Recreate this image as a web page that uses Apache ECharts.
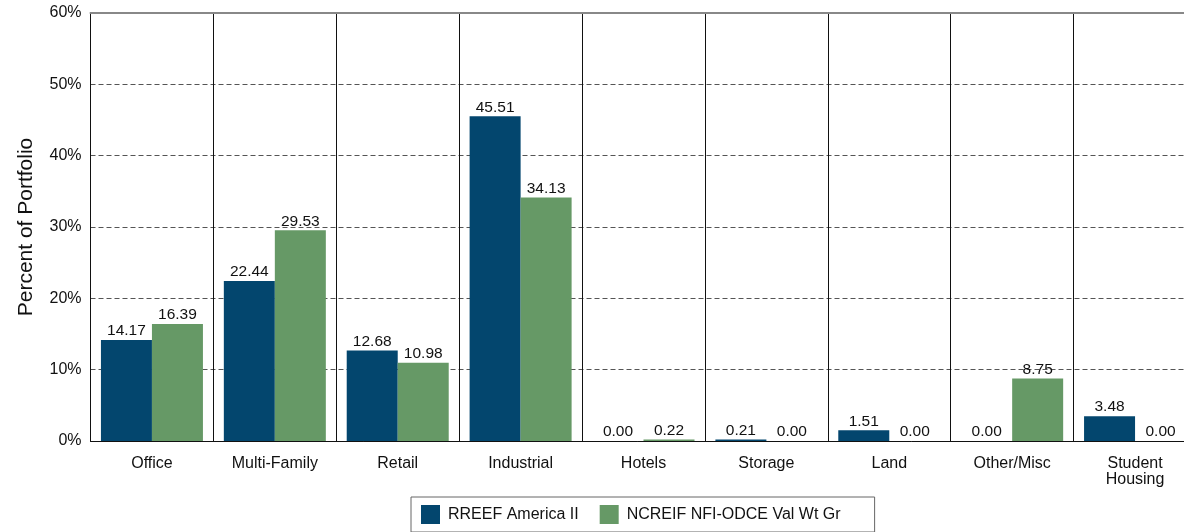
<!DOCTYPE html>
<html>
<head>
<meta charset="utf-8">
<script src="https://cdn.jsdelivr.net/npm/echarts@6/dist/echarts.min.js"></script>
<style>
  html, body { margin: 0; padding: 0; background: #fff; }
  #chart { width: 1184px; height: 532px; }
</style>
</head>
<body>
<div id="chart"></div>
<script>
// Property-type allocation, percent of portfolio
const categories = ['Office', 'Multi-Family', 'Retail', 'Industrial', 'Hotels', 'Storage', 'Land', 'Other/Misc', 'Student\nHousing'];
const rreefValues = [14.17, 22.44, 12.68, 45.51, 0.00, 0.21, 1.51, 0.00, 3.48];
const odceValues = [16.39, 29.53, 10.98, 34.13, 0.22, 0.00, 0.00, 8.75, 0.00];
const seriesNames = ['RREEF America II', 'NCREIF NFI-ODCE Val Wt Gr'];
const seriesColors = ['#03466E', '#669966'];

const FONT = 'Liberation Sans, Arial, sans-serif';

const chart = echarts.init(document.getElementById('chart'));

function barSeries(name, data, color) {
  return {
    name: name,
    type: 'bar',
    data: data,
    barWidth: 51,
    barGap: '0%',
    itemStyle: { color: color },
    label: {
      show: true,
      position: 'top',
      distance: 1,
      formatter: p => p.value.toFixed(2),
      fontFamily: FONT,
      fontSize: 15.5,
      color: '#111'
    }
  };
}

chart.setOption({
  animation: false,
  textStyle: { fontFamily: FONT },
  // the last category runs slightly past the right edge of the canvas
  grid: { left: 90.5, top: 13, width: 1106, bottom: 91, containLabel: false, outerBoundsMode: 'none' },
  legend: {
    left: 411,
    top: 497,
    padding: [8, 34, 8, 10],
    itemWidth: 19,
    itemHeight: 19,
    itemGap: 21,
    borderColor: '#666',
    borderWidth: 1,
    borderRadius: 0,
    icon: 'rect',
    textStyle: { fontFamily: FONT, fontSize: 16, color: '#111', padding: [0, 0, 0, 3] },
    data: seriesNames
  },
  xAxis: [
    {
      type: 'category',
      data: categories,
      axisLine: { lineStyle: { color: '#111', width: 1 } },
      axisTick: { show: false },
      axisLabel: { interval: 0, margin: 15, fontFamily: FONT, fontSize: 16, color: '#111', lineHeight: 16 },
      splitLine: { show: true, interval: 0, lineStyle: { color: '#111', width: 1 } }
    },
    {
      type: 'category',
      position: 'top',
      data: categories,
      axisLine: { lineStyle: { color: '#888', width: 2 } },
      axisTick: { show: false },
      axisLabel: { show: false }
    }
  ],
  yAxis: {
    type: 'value',
    min: 0,
    max: 60,
    interval: 10,
    name: 'Percent of Portfolio',
    nameLocation: 'middle',
    nameGap: 54,
    nameTextStyle: { fontFamily: FONT, fontSize: 21, color: '#111' },
    axisLine: { show: true, lineStyle: { color: '#111', width: 1 } },
    axisTick: { show: false },
    axisLabel: { margin: 9, fontFamily: FONT, fontSize: 16, color: '#111', formatter: '{value}%' },
    splitLine: { show: true, lineStyle: { color: '#555', type: [5, 3], width: 1 } }
  },
  series: [
    barSeries(seriesNames[0], rreefValues, seriesColors[0]),
    barSeries(seriesNames[1], odceValues, seriesColors[1])
  ]
});
</script>
</body>
</html>
